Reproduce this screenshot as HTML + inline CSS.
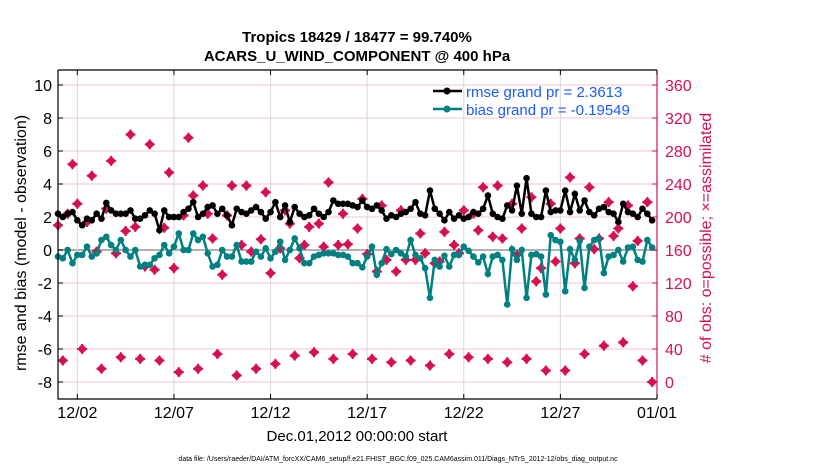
<!DOCTYPE html>
<html><head><meta charset="utf-8"><style>
body{margin:0;background:#fff}
svg{display:block;font-family:"Liberation Sans",sans-serif}
</style></head><body>
<svg id="chart" width="830" height="470" viewBox="0 0 830 470" xmlns="http://www.w3.org/2000/svg">
<text x="357" y="42" text-anchor="middle" font-size="15" font-weight="bold">Tropics 18429 / 18477 = 99.740%</text>
<text x="357" y="61" text-anchor="middle" font-size="15" font-weight="bold">ACARS_U_WIND_COMPONENT @ 400 hPa</text>
<g id="grid"></g>
<g id="marks"></g>
<g id="axes"></g>
<text transform="translate(26,243) rotate(-90)" text-anchor="middle" font-size="16">rmse and bias (model - observation)</text>
<text transform="translate(711,238) rotate(-90)" text-anchor="middle" font-size="16" fill="#d6114f">#  of obs: o=possible; ×=assimilated</text>
<text x="357" y="441" text-anchor="middle" font-size="15">Dec.01,2012 00:00:00 start</text>
<text x="398" y="461" text-anchor="middle" font-size="7">data file: /Users/raeder/DAI/ATM_forcXX/CAM6_setup/f.e21.FHIST_BGC.f09_025.CAM6assim.011/Diags_NTrS_2012-12/obs_diag_output.nc</text>
<g>
<line x1="433" y1="91" x2="462" y2="91" stroke="#000" stroke-width="2.5"/><circle cx="447" cy="91" r="3.5" fill="#000"/>
<text x="466" y="97" font-size="15" fill="#1a5cff">rmse grand pr = 2.3613</text>
<line x1="433" y1="109" x2="462" y2="109" stroke="#008080" stroke-width="2.5"/><circle cx="447" cy="109" r="3.5" fill="#008080"/>
<text x="466" y="115" font-size="15" fill="#1a5cff">bias grand pr = -0.19549</text>
</g>
</svg>
<script>
const xTickLabels=["12/02","12/07","12/12","12/17","12/22","12/27","01/01"];
const xTickDays=[1,6,11,16,21,26,31];
const leftTicks=[-8,-6,-4,-2,0,2,4,6,8,10];
const rightTicks=[0,40,80,120,160,200,240,280,320,360];
const rmse=[2.2,2.0,2.2,2.3,1.8,1.5,1.9,1.8,2.2,1.9,2.85,2.4,2.2,2.2,2.2,2.4,1.9,1.9,2.1,2.4,2.2,1.2,2.4,2.0,2.0,2.0,2.3,2.5,2.9,2.0,
2.2,2.6,2.7,2.2,2.5,2.1,1.5,2.5,2.3,2.2,2.4,2.6,2.3,1.9,2.3,2.9,2.0,2.7,1.7,2.6,2.2,2.0,2.1,2.5,2.2,2.0,2.3,3.0,2.8,2.8,2.8,2.7,
2.6,3.0,2.6,2.5,2.7,2.4,1.9,2.1,2.0,2.2,2.3,2.5,2.9,2.2,2.1,3.6,2.5,2.2,1.8,2.3,1.9,2.1,1.9,2.0,2.3,2.2,2.5,3.3,2.2,
2.0,1.9,2.7,2.4,3.9,2.2,4.35,2.2,2.0,2.0,3.6,2.3,2.4,2.4,3.6,2.3,3.4,2.4,3.0,2.3,2.1,2.5,2.6,2.3,2.2,1.7,2.8,2.3,2.2,2.0,2.5,2.2,1.8];
const bias=[-0.4,-0.5,0.0,-0.8,-0.3,-0.3,0.2,-0.4,-0.2,0.6,0.8,0.3,0.0,0.6,0.0,-0.4,0.0,-1.0,-0.9,-0.9,-0.5,-0.3,0.3,-0.2,0.2,1.0,0.0,0.0,1.0,0.6,0.8,
-0.2,-1.0,-0.9,0.0,-0.4,-0.4,0.3,-0.7,-0.7,-0.7,-0.1,-0.4,0.1,-0.5,-0.1,0.5,-0.6,0.0,0.7,0.1,-0.8,-0.8,-0.4,-0.3,-0.2,-0.2,-0.2,-0.3,-0.3,-0.4,-0.8,
-0.8,-1.05,-0.4,0.2,-1.5,-0.8,0.05,-0.25,0.0,-0.2,-0.4,0.6,-0.3,-0.5,-1.1,-2.9,-0.6,-1.0,-0.35,-1.0,-0.3,-0.3,0.2,-0.05,-0.4,-0.75,-0.4,-1.45,-0.4,-0.3,-0.6,
-3.3,0.05,-0.6,0.0,-2.9,-0.3,-0.25,-0.4,-2.7,0.9,0.6,0.5,-2.5,0.05,-0.6,0.55,-2.3,0.2,0.6,0.7,-1.4,-0.4,-0.3,0.0,-0.7,0.15,0.2,-0.6,-0.7,0.6,0.15];
const obsCount=[190,26,204,264, 216,40,194,250, 158,16,210,268, 156,30,183,300, 188,28,140,288, 136,26,187,254, 138,12,202,296, 226,16,238,204,
174,34,130,202, 238,8,166,238, 158,16,173,230, 132,22,162,208, 192,32,150,166, 188,36,192,164, 242,28,166,204, 167,34,186,222,
155,28,134,214, 148,24,134,208, 148,26,148,180, 156,20,144,146, 182,34,166,156, 208,30,204,184, 236,28,176,238, 174,24,216,154,
186,28,224,122, 138,14,216,146, 186,14,248,144, 174,34,236,161, 174,44,218,177, 186,48,214,116, 171,26,218,0];

const X0=58,X1=657,Y0=70,Y1=399;
const xScale=d=>X0+(X1-X0)*d/31;
const yL=v=>250-16.5*v;
const yR=c=>yL(c/20-8);
const NS="http://www.w3.org/2000/svg";
function mk(p,tag,attrs){const e=document.createElementNS(NS,tag);for(const k in attrs)e.setAttribute(k,attrs[k]);p.appendChild(e);return e;}
const grid=document.getElementById('grid'),marks=document.getElementById('marks'),axes=document.getElementById('axes');

leftTicks.forEach(v=>{
  const l=mk(grid,'line',{x1:X0,x2:X1,y1:yL(v),y2:yL(v),stroke:v===0?'#b0b0b0':'#f3c6d6','stroke-width':v===0?2:1});
  
  
});
xTickDays.forEach(d=>{
  const l=mk(grid,'line',{x1:xScale(d),x2:xScale(d),y1:Y0,y2:Y1,stroke:'#d8d8d8','stroke-width':1});
  
  
});

obsCount.forEach((c,i)=>{
  const x=xScale(i/4),y=yR(c);
  const g=mk(marks,'g',{});
  
  
  mk(g,'path',{d:`M${x} ${y-5}L${x+5} ${y}L${x} ${y+5}L${x-5} ${y}Z`,fill:'#d6114f'});
  mk(g,'path',{d:`M${x-5} ${y}H${x+5}M${x} ${y-5}V${y+5}`,stroke:'#d6114f','stroke-width':2});
});

function series(vals,color,name){
  const pts=vals.map((v,i)=>xScale(i/4)+','+yL(v)).join(' ');
  const pl=mk(marks,'polyline',{points:pts,fill:'none',stroke:color,'stroke-width':2.5});
  
  
  vals.forEach((v,i)=>{
    const c=mk(marks,'circle',{cx:xScale(i/4),cy:yL(v),r:3.3,fill:color});
    
    
  });
}
series(bias,'#008080','bias');
series(rmse,'#000','rmse');

mk(axes,'path',{d:`M${X0} ${Y0}H${X1}M${X0} ${Y0}V${Y1}H${X1}`,stroke:'#000','stroke-width':1.2,fill:'none'});
mk(axes,'line',{x1:X1,x2:X1,y1:Y0,y2:Y1,stroke:'#d6114f','stroke-width':1.2});
leftTicks.forEach(v=>{
  mk(axes,'line',{x1:X0,x2:X0+5,y1:yL(v),y2:yL(v),stroke:'#000'});
  const t=mk(axes,'text',{x:X0-6,y:yL(v)+6,'text-anchor':'end','font-size':16});
  t.textContent=v;
  
  
});
rightTicks.forEach(c=>{
  mk(axes,'line',{x1:X1-5,x2:X1,y1:yR(c),y2:yR(c),stroke:'#d6114f'});
  const t=mk(axes,'text',{x:X1+8,y:yR(c)+6,'font-size':16,fill:'#d6114f'});
  t.textContent=c;
  
  
});
xTickDays.forEach((d,i)=>{
  mk(axes,'line',{x1:xScale(d),x2:xScale(d),y1:Y1,y2:Y1-5,stroke:'#000'});
  mk(axes,'line',{x1:xScale(d),x2:xScale(d),y1:Y0,y2:Y0+5,stroke:'#000'});
  const t=mk(axes,'text',{x:xScale(d),y:418,'text-anchor':'middle','font-size':16});
  t.textContent=xTickLabels[i];
  
  
});
</script>
</body></html>
